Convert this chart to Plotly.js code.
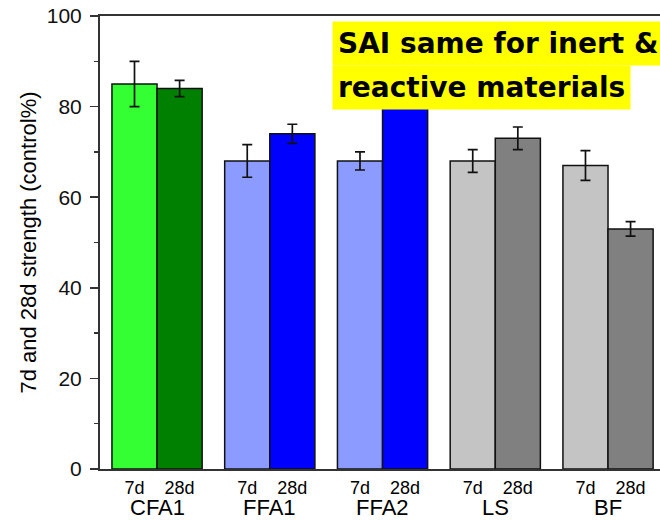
<!DOCTYPE html>
<html>
<head>
<meta charset="utf-8">
<script src="https://cdn.plot.ly/plotly-3.0.1.min.js"></script>
<style>html,body{margin:0;padding:0;background:#fff;overflow:hidden}#chart{width:660px;height:520px}</style>
</head>
<body>
<div id="chart"></div>
<script>
// ---- data ----
const groups = ['CFA1', 'FFA1', 'FFA2', 'LS', 'BF'];
const ages = ['7d', '28d'];
const val7 = [85, 68, 68, 68, 67];
const err7 = [5, 3.6, 2, 2.5, 3.3];
const val28 = [84, 74, 82, 73, 53];
const err28 = [1.8, 2.1, 2, 2.5, 1.6];
const color7 = ['#33ff33', '#8c9bff', '#8c9bff', '#c4c4c4', '#c4c4c4'];
const color28 = ['#008000', '#0000ff', '#0000ff', '#808080', '#808080'];
const noteLines = ['SAI same for inert &', 'reactive materials'];

// ---- layout helpers ----
const barW = 0.4;
const idx = groups.map((g, i) => i);
const x7 = idx.map(i => i - barW / 2);
const x28 = idx.map(i => i + barW / 2);

const errStyle = (arr) => ({type: 'data', array: arr, visible: true, color: '#111', thickness: 1.7, width: 5});

const traces = [
  {type: 'bar', x: x7, y: val7, width: barW, name: ages[0],
   marker: {color: color7, line: {color: '#111', width: 1.5}},
   error_y: errStyle(err7), hoverinfo: 'y'},
  {type: 'bar', x: x28, y: val28, width: barW, name: ages[1],
   marker: {color: color28, line: {color: '#111', width: 1.5}},
   error_y: errStyle(err28), hoverinfo: 'y'}
];

const tickVals = [];
const tickText = [];
idx.forEach(i => { tickVals.push(x7[i], x28[i]); tickText.push(ages[0], ages[1]); });

const annotations = groups.map((g, i) => ({
  text: g, x: i, xref: 'x', y: -0.085, yref: 'paper', yanchor: 'middle', xanchor: 'center',
  showarrow: false, font: {family: 'Liberation Sans, Arial, sans-serif', size: 22, color: '#000'}
}));
annotations.push({
  text: noteLines[0], xref: 'paper', yref: 'paper', x: 0.414, y: 0.94, xanchor: 'left', yanchor: 'middle',
  showarrow: false, bgcolor: '#ffff00', borderpad: 5,
  font: {family: 'DejaVu Sans, sans-serif', size: 28, color: '#000', weight: 'bold'}
});
annotations.push({
  text: noteLines[1], xref: 'paper', yref: 'paper', x: 0.414, y: 0.843, xanchor: 'left', yanchor: 'middle',
  showarrow: false, bgcolor: '#ffff00', borderpad: 5,
  font: {family: 'DejaVu Sans, sans-serif', size: 28, color: '#000', weight: 'bold'}
});

const layout = {
  width: 660, height: 520,
  margin: {l: 100, r: 0, t: 16, b: 51},
  paper_bgcolor: '#fff', plot_bgcolor: '#fff',
  showlegend: false,
  bargap: 0, bargroupgap: 0,
  xaxis: {
    range: [-0.506, 4.461], tickvals: tickVals, ticktext: tickText,
    showline: true, linecolor: '#333', linewidth: 2, mirror: true,
    showgrid: false, zeroline: false, ticks: '', ticklabelstandoff: 1,
    tickfont: {family: 'Liberation Sans, Arial, sans-serif', size: 18, color: '#000'}
  },
  yaxis: {
    range: [0, 100], tickvals: [0, 20, 40, 60, 80, 100],
    showline: true, linecolor: '#333', linewidth: 2,
    showgrid: false, zeroline: false,
    ticks: 'outside', ticklen: 8, tickwidth: 1.5, tickcolor: '#333', ticklabelstandoff: 4,
    minor: {tickvals: [10, 30, 50, 70, 90], ticks: 'outside', ticklen: 4, tickwidth: 1.5, tickcolor: '#333'},
    tickfont: {family: 'Liberation Sans, Arial, sans-serif', size: 21, color: '#111'},
    title: {text: '7d and 28d strength (control%)', standoff: 4,
            font: {family: 'Liberation Sans, Arial, sans-serif', size: 22, color: '#000'}}
  },
  annotations: annotations
};

Plotly.newPlot('chart', traces, layout, {displayModeBar: false, staticPlot: true});
</script>
</body>
</html>
